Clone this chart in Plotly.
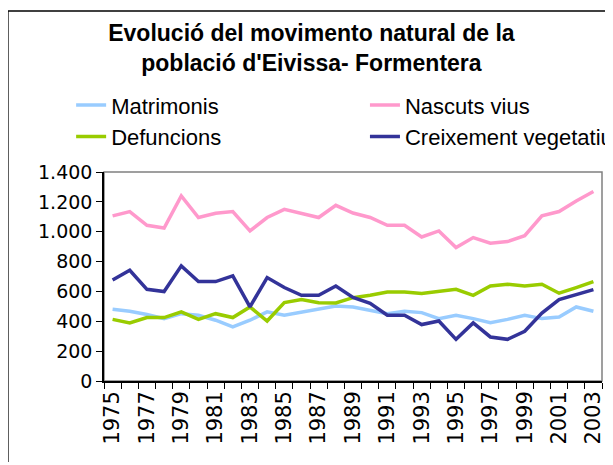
import plotly.graph_objects as go

years = list(range(1975, 2004))

matrimonis = [480, 467, 445, 418, 451, 440, 407, 362, 407, 463,
              440, 463, 480, 503, 496, 474, 451, 467, 458, 418,
              440, 418, 391, 413, 440, 418, 429, 496, 467]
nascuts_vius = [1106, 1135, 1043, 1025, 1240, 1095, 1124, 1135, 1005, 1095,
                1150, 1124, 1095, 1177, 1125, 1095, 1043, 1043, 965, 1005,
                894, 961, 923, 934, 973, 1106, 1135, 1206, 1269]
defuncions = [413, 389, 425, 425, 463, 413, 451, 425, 496, 402,
              525, 545, 525, 523, 558, 574, 596, 596, 586, 599,
              614, 574, 636, 648, 636, 648, 588, 626, 666]
creixement = [677, 742, 614, 599, 771, 666, 666, 704, 497, 693,
              626, 574, 574, 636, 560, 520, 440, 440, 378, 402,
              279, 389, 295, 279, 333, 455, 545, 579, 612]

# name, values, colour, which legend column
series = [
    ("Matrimonis", matrimonis, "#99CCFF", "legend"),
    ("Nascuts vius", nascuts_vius, "#FF99CC", "legend2"),
    ("Defuncions", defuncions, "#99CC00", "legend"),
    ("Creixement vegetatiu", creixement, "#333399", "legend2"),
]

sans = "Liberation Sans, Arial, sans-serif"
tick_font = "DejaVu Sans, sans-serif"

fig = go.Figure()
for name, vals, color, leg in series:
    fig.add_trace(go.Scatter(x=years, y=vals, name=name, mode="lines", legend=leg,
                             line=dict(color=color, width=3.5)))

fig.update_xaxes(range=[years[0] - 0.5, years[-1] + 0.5],
                 tickvals=years[::2],
                 ticktext=[str(y) for y in years[::2]],
                 tickangle=-90,
                 ticks="",
                 automargin=False,
                 showgrid=False, zeroline=False,
                 showline=True, linecolor="black", linewidth=1.5,
                 tickfont=dict(size=21, color="black", family=tick_font),
                 minor=dict(tickvals=[y - 0.5 for y in years] + [years[-1] + 0.5],
                            ticks="outside", ticklen=6, tickcolor="black", tickwidth=1,
                            showgrid=False))
fig.update_yaxes(range=[0, 1400], dtick=200, tickformat=",d",
                 ticks="outside", ticklen=6, tickcolor="black",
                 automargin=False,
                 showgrid=False, zeroline=False,
                 showline=True, linecolor="black", linewidth=1.5,
                 tickfont=dict(size=19, color="black", family=tick_font))

# plot area border (grey) and outer chart border (black)
fig.add_shape(type="rect", xref="paper", yref="paper", x0=0, y0=0, x1=1, y1=1,
              line=dict(color="#808080", width=1.5), layer="below")
fig.add_shape(type="line", xref="paper", yref="paper",
              x0=-0.193, y0=1.77, x1=1.1, y1=1.77,
              line=dict(color="black", width=1.5))
fig.add_shape(type="line", xref="paper", yref="paper",
              x0=-0.193, y0=1.77, x1=-0.193, y1=-0.388,
              line=dict(color="black", width=1.5))

leg_common = dict(orientation="v", yanchor="top", y=1.42, xanchor="left",
                  font=dict(size=22, color="black", family=sans),
                  bgcolor="rgba(0,0,0,0)", borderwidth=0, itemwidth=30,
                  tracegroupgap=0)

fig.update_layout(
    width=613, height=465,
    margin=dict(l=96, r=19, t=164, b=92, autoexpand=False),
    separators=",.",
    paper_bgcolor="white", plot_bgcolor="white",
    title=dict(text="<b>Evolució del movimento natural de la<br>població d'Eivissa- Formentera</b>",
               x=0.495, xanchor="center", y=0.929, yanchor="top",
               font=dict(size=23, color="black", family=sans)),
    showlegend=True,
    legend=dict(x=-0.066, **leg_common),
    legend2=dict(x=0.524, **leg_common),
)

fig.write_html("out.html")
